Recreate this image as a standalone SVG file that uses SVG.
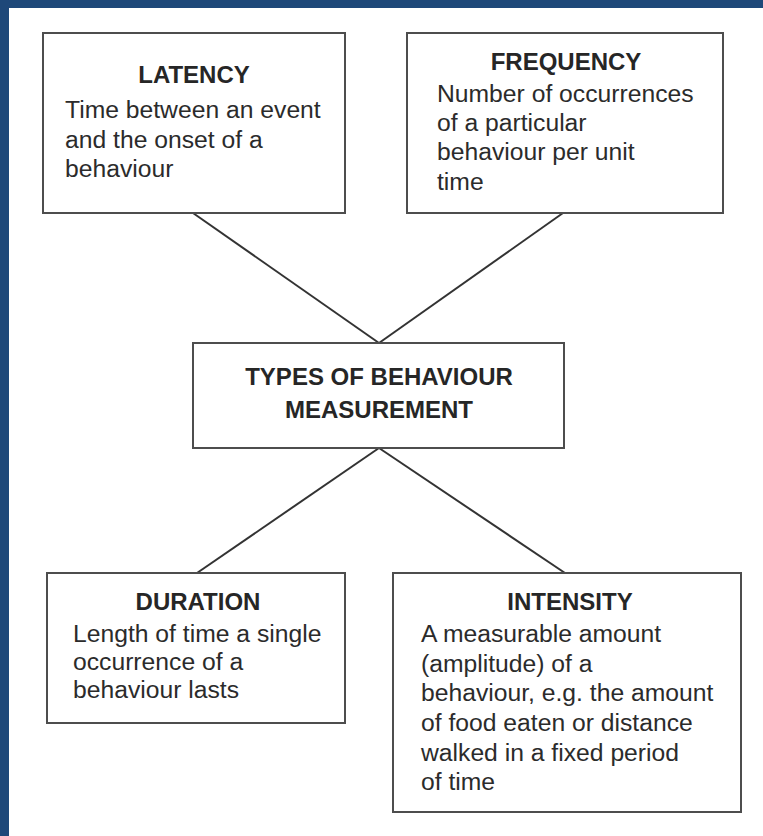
<svg xmlns="http://www.w3.org/2000/svg" width="763" height="836" viewBox="0 0 763 836">
  <style>
    .box { fill: #ffffff; stroke: #4d4d4d; stroke-width: 2; }
    .link { stroke: #333333; stroke-width: 2; fill: none; }
    .title { font-family: "Liberation Sans", Arial, sans-serif; font-weight: bold; font-size: 24px; fill: #262626; text-anchor: middle; }
    .body { font-family: "Liberation Sans", Arial, sans-serif; font-size: 24.7px; fill: #2b2b2b; }
  </style>

  <!-- page background with blue frame on top and left -->
  <rect x="0" y="0" width="763" height="836" fill="#ffffff"/>
  <rect x="0" y="0" width="763" height="8" fill="#1e4879"/>
  <rect x="0" y="0" width="9" height="836" fill="#1e4879"/>

  <!-- connectors -->
  <g id="connectors">
    <line class="link" x1="193" y1="213" x2="379" y2="343"/>
    <line class="link" x1="563" y1="213" x2="379" y2="343"/>
    <line class="link" x1="379" y1="448" x2="197" y2="573"/>
    <line class="link" x1="379" y1="448" x2="565" y2="573"/>
  </g>

  <g id="latency">
    <rect class="box" x="43" y="33" width="302" height="180"/>
    <text class="title" x="194" y="83">LATENCY</text>
    <text class="body" x="65" y="118">Time between an event</text>
    <text class="body" x="65" y="148">and the onset of a</text>
    <text class="body" x="65" y="177">behaviour</text>
  </g>

  <g id="frequency">
    <rect class="box" x="407" y="33" width="316" height="180"/>
    <text class="title" x="566" y="70">FREQUENCY</text>
    <text class="body" x="437" y="102">Number of occurrences</text>
    <text class="body" x="437" y="131">of a particular</text>
    <text class="body" x="437" y="160">behaviour per unit</text>
    <text class="body" x="437" y="190">time</text>
  </g>

  <g id="types">
    <rect class="box" x="193" y="343" width="371" height="105"/>
    <text class="title" x="379" y="385">TYPES OF BEHAVIOUR</text>
    <text class="title" x="379" y="418">MEASUREMENT</text>
  </g>

  <g id="duration">
    <rect class="box" x="47" y="573" width="298" height="150"/>
    <text class="title" x="198" y="610">DURATION</text>
    <text class="body" x="73" y="642">Length of time a single</text>
    <text class="body" x="73" y="670">occurrence of a</text>
    <text class="body" x="73" y="698">behaviour lasts</text>
  </g>

  <g id="intensity">
    <rect class="box" x="393" y="573" width="348" height="239"/>
    <text class="title" x="570" y="610">INTENSITY</text>
    <text class="body" x="421" y="642">A measurable amount</text>
    <text class="body" x="421" y="672">(amplitude) of a</text>
    <text class="body" x="421" y="701">behaviour, e.g. the amount</text>
    <text class="body" x="421" y="731">of food eaten or distance</text>
    <text class="body" x="421" y="761">walked in a fixed period</text>
    <text class="body" x="421" y="790">of time</text>
  </g>
</svg>
